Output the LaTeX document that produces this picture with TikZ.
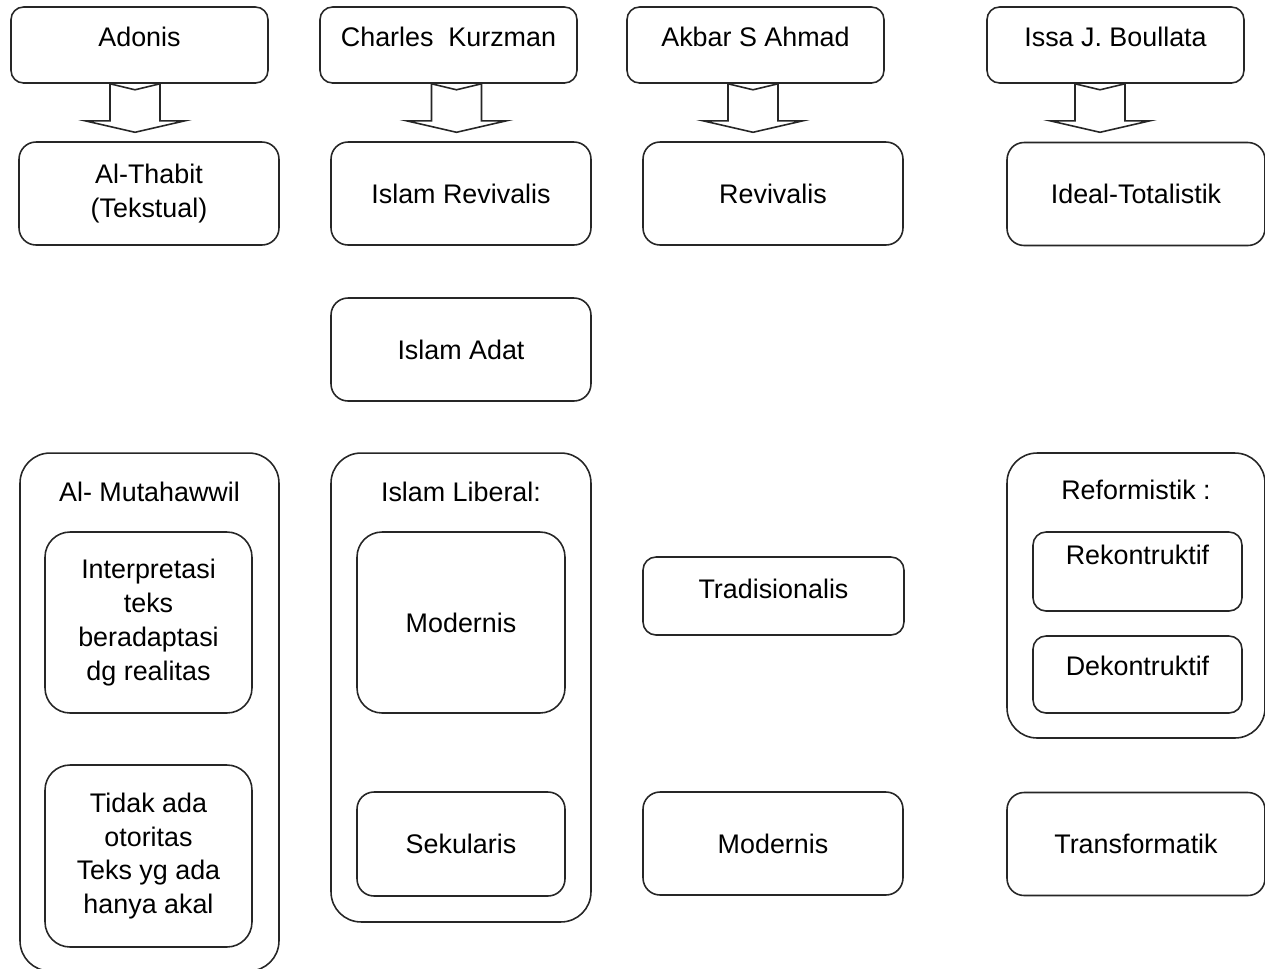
\documentclass[tikz,border=0pt]{standalone}
\usepackage{fontspec}
\setmainfont{Liberation Sans}
\usetikzlibrary{positioning, calc}

\begin{document}
\begin{tikzpicture}[
  x=0.02cm, y=-0.02cm,
  every node/.style={font=\fontsize{15.3}{19.3}\selectfont},
  box/.style={rectangle, draw=black!85, line width=0.9pt, rounded corners=0.34cm,
              minimum width=5.2cm, minimum height=2.06cm,
              align=center, inner sep=2pt},
  namebox/.style={box, minimum width=5.14cm, minimum height=1.52cm,
              rounded corners=0.25cm, text depth=0.32cm},
  slim/.style={box, minimum height=1.56cm, rounded corners=0.26cm},
  tall/.style={box, minimum width=4.14cm, minimum height=3.62cm, rounded corners=0.5cm},
  outer/.style={box, rounded corners=0.6cm},
  title/.style={inner sep=0pt},
  blockarrow/.style={draw=black!85, line width=0.9pt, fill=white, line join=miter}
]
\useasboundingbox (0,0) rectangle (1265,968);

\node[namebox] (adonis) at (139.5,45) {Adonis};
\node[namebox] (kurzman) at (448.5,45) {Charles \ Kurzman};
\node[namebox] (akbar) at (755.5,45) {Akbar S Ahmad};
\node[namebox] (issa) at (1115.5,45) {Issa J. Boullata};

\node[box] (thabit) at (149,193.5) {Al-Thabit\\(Tekstual)};
\node[box] (islamrev) at (461,193.5) {Islam Revivalis};
\node[box] (revivalis) at (773,193.5) {Revivalis};
\node[box, minimum width=5.16cm] (ideal) at (1136,194) {Ideal-Totalistik};
\node[box] (adat) at (461,349.5) {Islam Adat};

\node[outer, minimum width=5.18cm, minimum height=10.36cm] (mutahawwil) at (149.5,712) {};
\node[outer, minimum height=9.38cm] (liberal) at (461,687.5) {};
\node[outer, minimum width=5.16cm, minimum height=5.7cm] (reform) at (1136,595.5) {};

\node[title] (mutahawwiltitle) at ($(mutahawwil.north)+(0,39.5)$) {Al- Mutahawwil};
\node[title] (liberaltitle) at ($(liberal.north)+(0,39.5)$) {Islam Liberal:};
\node[title] (reformtitle) at ($(reform.north)+(0,37.5)$) {Reformistik :};

\node[tall] (interp) at (148.5,622.5) {Interpretasi\\teks\\beradaptasi\\dg realitas};
\node[tall, minimum height=3.64cm] (tidak) at (148.5,856) {Tidak ada\\otoritas\\Teks yg ada\\hanya akal};
\node[tall, minimum width=4.16cm] (modlib) at (461,622.5) {Modernis};
\node[box, minimum width=4.16cm, minimum height=2.08cm] (sekular) at (461,844) {Sekularis};

\node[slim, minimum width=5.22cm, text depth=0.28cm] (trad) at (773.5,596) {Tradisionalis};
\node[box] (modern) at (773,843.5) {Modernis};

\node[slim, minimum width=4.18cm, minimum height=1.58cm, text depth=0.68cm] (rekon) at (1137.5,571.5) {Rekontruktif};
\node[slim, minimum width=4.18cm, minimum height=1.54cm, text depth=0.34cm] (dekon) at (1137.5,674.5) {Dekontruktif};
\node[box, minimum width=5.16cm] (transf) at (1136,844) {Transformatik};

\foreach \n/\dx in {adonis/-4.5, kurzman/8, akbar/-2.5, issa/-15.5}
  \draw[blockarrow] ($(\n.south)+(\dx-25,0)$) -- ++(25,6) -- ++(25,-6) -- ++(0,37)
    -- ++(25,0) -- ++(-50,11.5) -- ++(-50,-11.5) -- ++(25,0) -- cycle;

\end{tikzpicture}
\end{document}
